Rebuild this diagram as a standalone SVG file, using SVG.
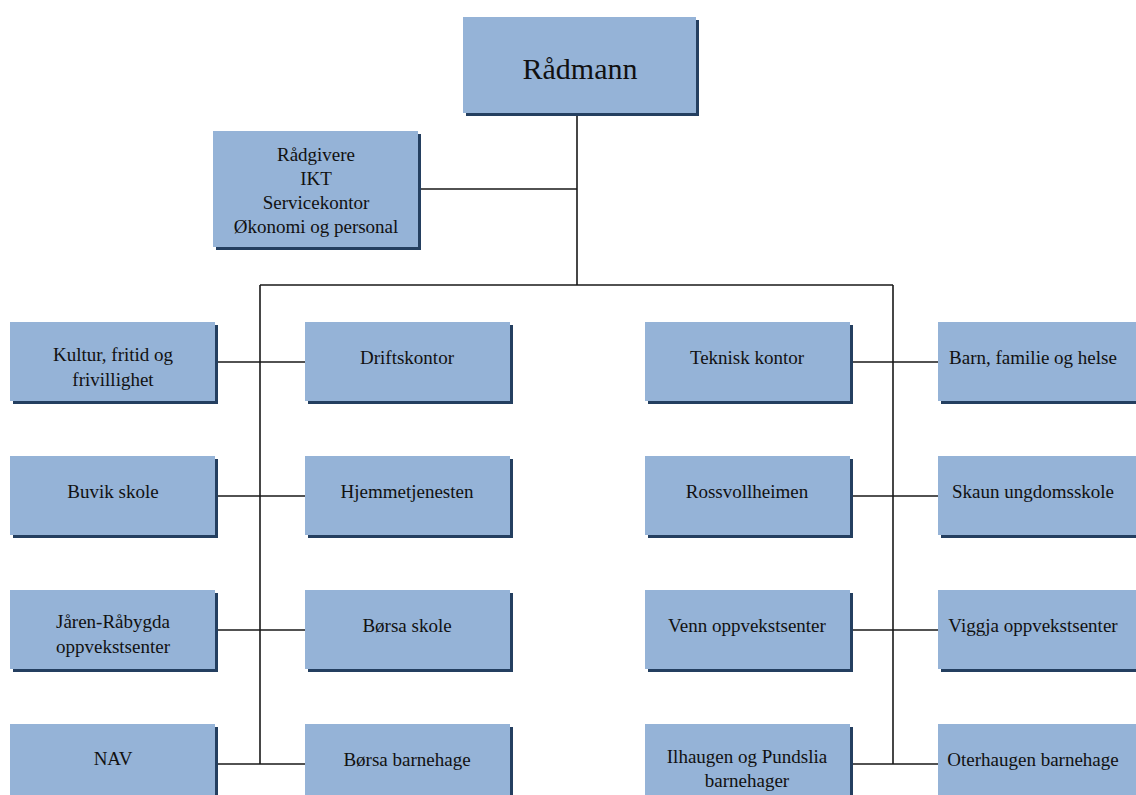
<svg xmlns="http://www.w3.org/2000/svg" width="1136" height="795" viewBox="0 0 1136 795">
<style>
.sh{fill:#243f60}
.bx{fill:#95b3d7}
.t{font-family:"Liberation Serif","Times New Roman",serif;font-size:19px;fill:#111;text-anchor:middle}
.big{font-size:30px}
.ln{stroke:#1a1a1a;stroke-width:1.6;fill:none}
</style>
<rect width="1136" height="795" fill="#ffffff"/>
<g id="connectors" class="ln">
<path d="M577,113V285M418,189H577M260,285H893M260,285V764M893,285V764"/>
<path d="M215,362H305M215,496H305M215,630H305M215,764H305"/>
<path d="M850,362H938M850,496H938M850,630H938M850,764H938"/>
</g>
<g id="radmann"><rect class="sh" x="466" y="20" width="233" height="96"/><rect class="bx" x="463" y="17" width="233" height="96"/><text class="t big" x="580" y="79">Rådmann</text></g>
<g id="radgivere"><rect class="sh" x="216" y="134" width="205" height="116"/><rect class="bx" x="213" y="131" width="205" height="116"/>
<text class="t" x="316" y="161">Rådgivere</text><text class="t" x="316" y="185">IKT</text><text class="t" x="316" y="209">Servicekontor</text><text class="t" x="316" y="233">Økonomi og personal</text></g>
<g id="kultur"><rect class="sh" x="13" y="325" width="205" height="79"/><rect class="bx" x="10" y="322" width="205" height="79"/><text class="t" x="113" y="361">Kultur, fritid og</text><text class="t" x="113" y="386">frivillighet</text></g>
<g id="drift"><rect class="sh" x="308" y="325" width="205" height="79"/><rect class="bx" x="305" y="322" width="205" height="79"/><text class="t" x="407" y="364">Driftskontor</text></g>
<g id="teknisk"><rect class="sh" x="648" y="325" width="205" height="79"/><rect class="bx" x="645" y="322" width="205" height="79"/><text class="t" x="747" y="364">Teknisk kontor</text></g>
<g id="barn"><rect class="sh" x="941" y="325" width="205" height="79"/><rect class="bx" x="938" y="322" width="205" height="79"/><text class="t" x="1033" y="364">Barn, familie og helse</text></g>
<g id="buvik"><rect class="sh" x="13" y="459" width="205" height="79"/><rect class="bx" x="10" y="456" width="205" height="79"/><text class="t" x="113" y="498">Buvik skole</text></g>
<g id="hjemme"><rect class="sh" x="308" y="459" width="205" height="79"/><rect class="bx" x="305" y="456" width="205" height="79"/><text class="t" x="407" y="498">Hjemmetjenesten</text></g>
<g id="ross"><rect class="sh" x="648" y="459" width="205" height="79"/><rect class="bx" x="645" y="456" width="205" height="79"/><text class="t" x="747" y="498">Rossvollheimen</text></g>
<g id="skaun"><rect class="sh" x="941" y="459" width="205" height="79"/><rect class="bx" x="938" y="456" width="205" height="79"/><text class="t" x="1033" y="498">Skaun ungdomsskole</text></g>
<g id="jaren"><rect class="sh" x="13" y="593" width="205" height="79"/><rect class="bx" x="10" y="590" width="205" height="79"/><text class="t" x="113" y="628">Jåren-Råbygda</text><text class="t" x="113" y="653">oppvekstsenter</text></g>
<g id="borsaskole"><rect class="sh" x="308" y="593" width="205" height="79"/><rect class="bx" x="305" y="590" width="205" height="79"/><text class="t" x="407" y="632">Børsa skole</text></g>
<g id="venn"><rect class="sh" x="648" y="593" width="205" height="79"/><rect class="bx" x="645" y="590" width="205" height="79"/><text class="t" x="747" y="632">Venn oppvekstsenter</text></g>
<g id="viggja"><rect class="sh" x="941" y="593" width="205" height="79"/><rect class="bx" x="938" y="590" width="205" height="79"/><text class="t" x="1033" y="632">Viggja oppvekstsenter</text></g>
<g id="nav"><rect class="sh" x="13" y="727" width="205" height="79"/><rect class="bx" x="10" y="724" width="205" height="79"/><text class="t" x="113" y="765">NAV</text></g>
<g id="borsabarnehage"><rect class="sh" x="308" y="727" width="205" height="79"/><rect class="bx" x="305" y="724" width="205" height="79"/><text class="t" x="407" y="766">Børsa barnehage</text></g>
<g id="ilhaugen"><rect class="sh" x="648" y="727" width="205" height="79"/><rect class="bx" x="645" y="724" width="205" height="79"/><text class="t" x="747" y="763">Ilhaugen og Pundslia</text><text class="t" x="747" y="787">barnehager</text></g>
<g id="oterhaugen"><rect class="sh" x="941" y="727" width="205" height="79"/><rect class="bx" x="938" y="724" width="205" height="79"/><text class="t" x="1033" y="766">Oterhaugen barnehage</text></g>
</svg>
